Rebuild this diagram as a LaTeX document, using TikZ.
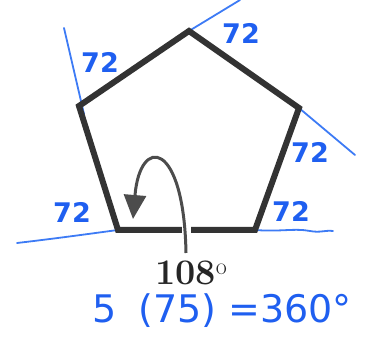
\documentclass[tikz,border=0pt]{standalone}
\usepackage{fontspec}
\newfontfamily\hand{DejaVu Sans}
\usetikzlibrary{arrows.meta}
\definecolor{pen}{HTML}{333333}
\definecolor{ink}{HTML}{1F5FF0}
\definecolor{inkline}{HTML}{3D7BF5}
\tikzset{
  bluelbl/.style={text=ink, font=\hand\bfseries\fontsize{27}{27}\selectfont, inner sep=0pt},
  extline/.style={draw=inkline, line width=1.8pt, line cap=round},
  polyedge/.style={draw=pen, line width=6pt, line join=miter},
}
\begin{document}
\begin{tikzpicture}[x=1pt,y=-1pt]
\useasboundingbox (0,0) rectangle (365,342);
% vertices
\coordinate (T) at (189,31);
\coordinate (R) at (299,108);
\coordinate (BR) at (255,230);
\coordinate (BL) at (118,230);
\coordinate (L) at (79,106);
% extension ends
\coordinate (Le) at (64,28);
\coordinate (Ls) at (84,114);
\coordinate (Te) at (240,0);
\coordinate (Re) at (355,155);
\coordinate (Be) at (17,243);
\coordinate (BRe) at (333,231);
% blue extension lines
\draw[extline] (Le) -- (Ls);
\draw[extline] (T) -- (Te);
\draw[extline] (R) -- (Re);
\draw[extline] (Be) .. controls (60,238) and (95,233) .. (BL);
\draw[extline] (BR) .. controls (280,232) and (295,228) .. (310,231) .. controls (320,233) and (325,230) .. (BRe);
% pentagon
\draw[polyedge] (T) -- (R) -- (BR) -- (BL) -- (L) -- cycle;
% curved arrow
\coordinate (As) at (186,253);
\coordinate (Ae) at (133,219);
\draw[white, line width=9pt] (186,238) -- (186,222);
\draw[draw=black!70, line width=3pt, -{Triangle[length=24pt,width=22pt]}] (As) .. controls (184,140) and (140,135) .. (Ae);
% labels
\node[bluelbl] (l1) at (100,62) {72};
\node[bluelbl] (l2) at (241,33) {72};
\node[bluelbl] (l3) at (310,152) {72};
\node[bluelbl] (l4) at (291,211) {72};
\node[bluelbl] (l5) at (72,212) {72};
\node[text=black!85, font=\bfseries\fontsize{36}{36}\selectfont, inner sep=0pt] (ang) at (191,273) {108\raisebox{10pt}{\normalfont\fontsize{24}{24}\selectfont o}};
\node[text=ink, font=\hand\fontsize{38}{38}\selectfont, inner sep=0pt] (eq) at (222,311) {5\hspace{22pt}(75)\hspace{12pt}=360°};
\end{tikzpicture}
\end{document}
